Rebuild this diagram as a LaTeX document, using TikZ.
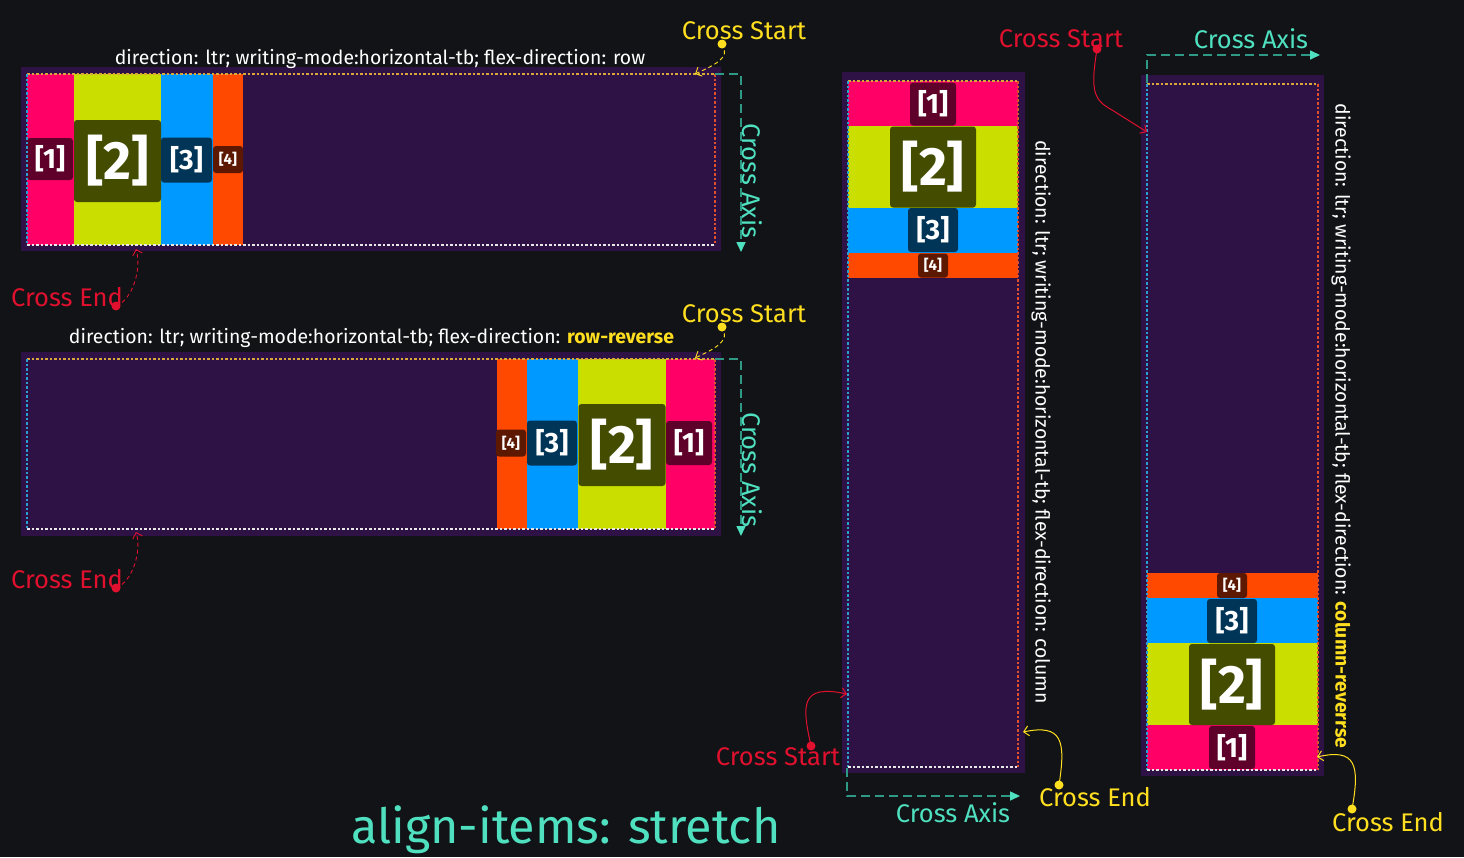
\documentclass[tikz,border=0pt]{standalone}
\usepackage{fontspec}
\setmainfont{Fira Sans}
\usetikzlibrary{arrows.meta}
\definecolor{bgc}{HTML}{121316}
\definecolor{panelc}{HTML}{2E1245}
\definecolor{pinkc}{HTML}{FF0066}
\definecolor{limec}{HTML}{CADF00}
\definecolor{bluec}{HTML}{0099FF}
\definecolor{orangec}{HTML}{FF4800}
\definecolor{l1c}{HTML}{5E0029}
\definecolor{l2c}{HTML}{444C00}
\definecolor{l3c}{HTML}{003558}
\definecolor{l4c}{HTML}{5C1800}
\definecolor{yelc}{HTML}{FFDF1F}
\definecolor{redc}{HTML}{E0102E}
\definecolor{tealc}{HTML}{4FE0C0}
\definecolor{tealdk}{HTML}{2E9A85}
\definecolor{dotY}{HTML}{D8A83A}
\definecolor{dotC}{HTML}{2AA0D0}
\definecolor{dotR}{HTML}{E0502A}
\definecolor{dotW}{HTML}{E8E8E8}
\tikzset{
  lab/.style={rounded corners=3pt, inner sep=0pt, outer sep=0pt, text=white},
  labA/.style={lab, fill=l1c, font=\fontsize{28}{30}\selectfont\bfseries},
  labB/.style={lab, fill=l2c, font=\fontsize{54}{56}\selectfont\bfseries},
  labC/.style={lab, fill=l3c, font=\fontsize{28}{30}\selectfont\bfseries},
  labD/.style={lab, fill=l4c, font=\fontsize{15}{17}\selectfont\bfseries},
  edgeY/.style={dotY, line width=1.2pt, dash pattern=on 2.5pt off 2pt},
  edgeC/.style={dotC, line width=1.2pt, dash pattern=on 2.5pt off 2pt},
  edgeR/.style={dotR, line width=1.2pt, dash pattern=on 2.5pt off 2pt},
  edgeW/.style={dotW, line width=1.2pt, dash pattern=on 2.5pt off 2pt},
  ann/.style={font=\fontsize{25.5}{29}\selectfont, inner sep=0pt},
  ptitle/.style={font=\fontsize{19.4}{23}\selectfont, text=white, inner sep=0pt},
  axisline/.style={tealdk, line width=1.6pt, dash pattern=on 9pt off 5pt, -{Triangle[length=10pt,width=9pt,color=tealc]}},
  dasharrow/.style={line width=0.9pt, dash pattern=on 4pt off 3pt, -{Straight Barb[length=5pt,width=10pt]}},
  solarrow/.style={line width=1pt, -{Straight Barb[length=5pt,width=10pt]}},
}
\begin{document}
\begin{tikzpicture}[x=1pt,y=-1pt]
\fill[bgc] (0,0) rectangle (1464,857);
\useasboundingbox (0,0) rectangle (1464,857);

% ================= Panel 1: row =================
\fill[panelc] (21,67) rectangle (721,251);
\fill[pinkc] (27,74) rectangle (74,245);
\fill[limec] (74,74) rectangle (161,245);
\fill[bluec] (161,74) rectangle (213,245);
\fill[orangec] (213,74) rectangle (243,245);
\node[labA, minimum width=46pt, minimum height=42pt] (p1a) at (50,159) {[1]};
\node[labB, minimum width=87pt, minimum height=82pt] (p1b) at (117.5,161) {[2]};
\node[labC, minimum width=51pt, minimum height=45pt] (p1c) at (186.5,160) {[3]};
\node[labD, minimum width=30pt, minimum height=27pt] (p1d) at (228,159.5) {[4]};
\draw[edgeY] (27,74) -- (715,74);
\draw[edgeC] (27,74) -- (27,245);
\draw[edgeR] (715,74) -- (715,245);
\draw[edgeW] (27,245) -- (715,245);
\node[ptitle] (t1) at (380,59) {direction: ltr; writing-mode:horizontal-tb; flex-direction: row};
\node[ann, text=yelc] (cs1) at (744,31) {Cross Start};
\coordinate (cs1d) at (722,44);
\coordinate (cs1e) at (695,74);
\fill[yelc] (cs1d) circle (4.5pt);
\draw[dasharrow, yelc] (cs1d) .. controls (732,58) and (712,66) .. (cs1e);
\coordinate (ax1a) at (715,74);
\coordinate (ax1b) at (741,74);
\coordinate (ax1c) at (741,252);
\draw[axisline] (ax1a) -- (ax1b) -- (ax1c);
\node[ann, text=tealc, rotate=-90] (ax1) at (752,181) {Cross Axis};
\node[ann, text=redc] (ce1) at (67,297) {Cross End};
\coordinate (ce1d) at (116,306);
\coordinate (ce1e) at (136,249);
\fill[redc] (ce1d) circle (4.5pt);
\draw[dasharrow, redc] (ce1d) .. controls (132,300) and (142,270) .. (ce1e);

% ================= Panel 2: row-reverse =================
\fill[panelc] (21,352) rectangle (721,536);
\fill[orangec] (497,359) rectangle (527,529);
\fill[bluec] (527,359) rectangle (578,529);
\fill[limec] (578,359) rectangle (666,529);
\fill[pinkc] (666,359) rectangle (715,529);
\node[labD, minimum width=30pt, minimum height=27pt] (p2d) at (511,443) {[4]};
\node[labC, minimum width=50pt, minimum height=45pt] (p2c) at (552,443) {[3]};
\node[labB, minimum width=87pt, minimum height=82pt] (p2b) at (622,445) {[2]};
\node[labA, minimum width=46pt, minimum height=44pt] (p2a) at (689,443) {[1]};
\draw[edgeY] (27,359) -- (715,359);
\draw[edgeC] (27,359) -- (27,529);
\draw[edgeR] (715,359) -- (715,529);
\draw[edgeW] (27,529) -- (715,529);
\node[ptitle] (t2) at (371.5,338) {direction: ltr; writing-mode:horizontal-tb; flex-direction: \textcolor{yelc}{\bfseries row-reverse}};
\node[ann, text=yelc] (cs2) at (744,314) {Cross Start};
\coordinate (cs2d) at (722,327);
\coordinate (cs2e) at (695,358);
\fill[yelc] (cs2d) circle (4.5pt);
\draw[dasharrow, yelc] (cs2d) .. controls (732,341) and (712,350) .. (cs2e);
\coordinate (ax2a) at (715,359);
\coordinate (ax2b) at (741,359);
\coordinate (ax2c) at (741,536);
\draw[axisline] (ax2a) -- (ax2b) -- (ax2c);
\node[ann, text=tealc, rotate=-90] (ax2) at (752,470) {Cross Axis};
\node[ann, text=redc] (ce2) at (67,579) {Cross End};
\coordinate (ce2d) at (116,588);
\coordinate (ce2e) at (136,532);
\fill[redc] (ce2d) circle (4.5pt);
\draw[dasharrow, redc] (ce2d) .. controls (132,582) and (142,552) .. (ce2e);

% ================= Panel 3: column =================
\fill[panelc] (842,72) rectangle (1025,773);
\fill[pinkc] (848,81) rectangle (1018,126);
\fill[limec] (848,126) rectangle (1018,208);
\fill[bluec] (848,208) rectangle (1018,253);
\fill[orangec] (848,253) rectangle (1018,278);
\node[labA, minimum width=46pt, minimum height=43pt] (p3a) at (933,104) {[1]};
\node[labB, minimum width=86pt, minimum height=81pt] (p3b) at (933,167) {[2]};
\node[labC, minimum width=50pt, minimum height=44pt] (p3c) at (933,230) {[3]};
\node[labD, minimum width=30pt, minimum height=24pt] (p3d) at (933,265.5) {[4]};
\draw[edgeY] (848,81) -- (1018,81);
\draw[edgeC] (848,81) -- (848,767);
\draw[edgeR] (1018,81) -- (1018,767);
\draw[edgeW] (848,767) -- (1018,767);
\node[ptitle, rotate=-90] (t3) at (1041,422) {direction: ltr; writing-mode:horizontal-tb; flex-direction: column};
\node[ann, text=redc] (cs3) at (778,757) {Cross Start};
\coordinate (cs3d) at (811,746);
\coordinate (cs3e) at (847,694);
\fill[redc] (cs3d) circle (4.5pt);
\draw[solarrow, redc] (cs3d) .. controls (802,705) and (800,684) .. (cs3e);
\node[ann, text=yelc] (ce3) at (1095,797) {Cross End};
\coordinate (ce3d) at (1059,785);
\coordinate (ce3e) at (1023,732);
\fill[yelc] (ce3d) circle (4.5pt);
\draw[solarrow, yelc] (ce3d) .. controls (1066,740) and (1062,724) .. (ce3e);
\coordinate (ax3a) at (847,768);
\coordinate (ax3b) at (847,796);
\coordinate (ax3c) at (1020,796);
\draw[axisline] (ax3a) -- (ax3b) -- (ax3c);
\node[ann, text=tealc] (ax3) at (953,813) {Cross Axis};

% ================= Panel 4: column-reverse =================
\fill[panelc] (1141,75) rectangle (1324,776);
\fill[orangec] (1147,573) rectangle (1318,598);
\fill[bluec] (1147,598) rectangle (1318,643);
\fill[limec] (1147,643) rectangle (1318,725);
\fill[pinkc] (1147,725) rectangle (1318,770);
\node[labD, minimum width=30pt, minimum height=25pt] (p4d) at (1232,585.5) {[4]};
\node[labC, minimum width=50pt, minimum height=44pt] (p4c) at (1232,621) {[3]};
\node[labB, minimum width=86pt, minimum height=81pt] (p4b) at (1232,684.5) {[2]};
\node[labA, minimum width=46pt, minimum height=43pt] (p4a) at (1232,747.5) {[1]};
\draw[edgeY] (1147,84) -- (1318,84);
\draw[edgeC] (1147,84) -- (1147,770);
\draw[edgeR] (1318,84) -- (1318,770);
\draw[edgeW] (1147,770) -- (1318,770);
\node[ptitle, rotate=-90] (t4) at (1341,426) {direction: ltr; writing-mode:horizontal-tb; flex-direction: \textcolor{yelc}{\bfseries column-reverrse}};
\node[ann, text=redc] (cs4) at (1061,39) {Cross Start};
\coordinate (cs4d) at (1097,49);
\coordinate (cs4e) at (1147,132);
\fill[redc] (cs4d) circle (4.5pt);
\draw[solarrow, redc] (cs4d) .. controls (1090,92) and (1094,100) .. (1112,110) -- (cs4e);
\coordinate (ax4a) at (1147,83);
\coordinate (ax4b) at (1147,55);
\coordinate (ax4c) at (1320,55);
\draw[axisline] (ax4a) -- (ax4b) -- (ax4c);
\node[ann, text=tealc] (ax4) at (1251,39) {Cross Axis};
\node[ann, text=yelc] (ce4) at (1388,822) {Cross End};
\coordinate (ce4d) at (1352,809);
\coordinate (ce4e) at (1317,757);
\fill[yelc] (ce4d) circle (4.5pt);
\draw[solarrow, yelc] (ce4d) .. controls (1360,765) and (1356,748) .. (ce4e);

% ================= Title =================
\node[font=\fontsize{48.5}{52}\selectfont, text=tealc, inner sep=0pt] (title) at (566,830) {align-items: stretch};
\end{tikzpicture}
\end{document}
